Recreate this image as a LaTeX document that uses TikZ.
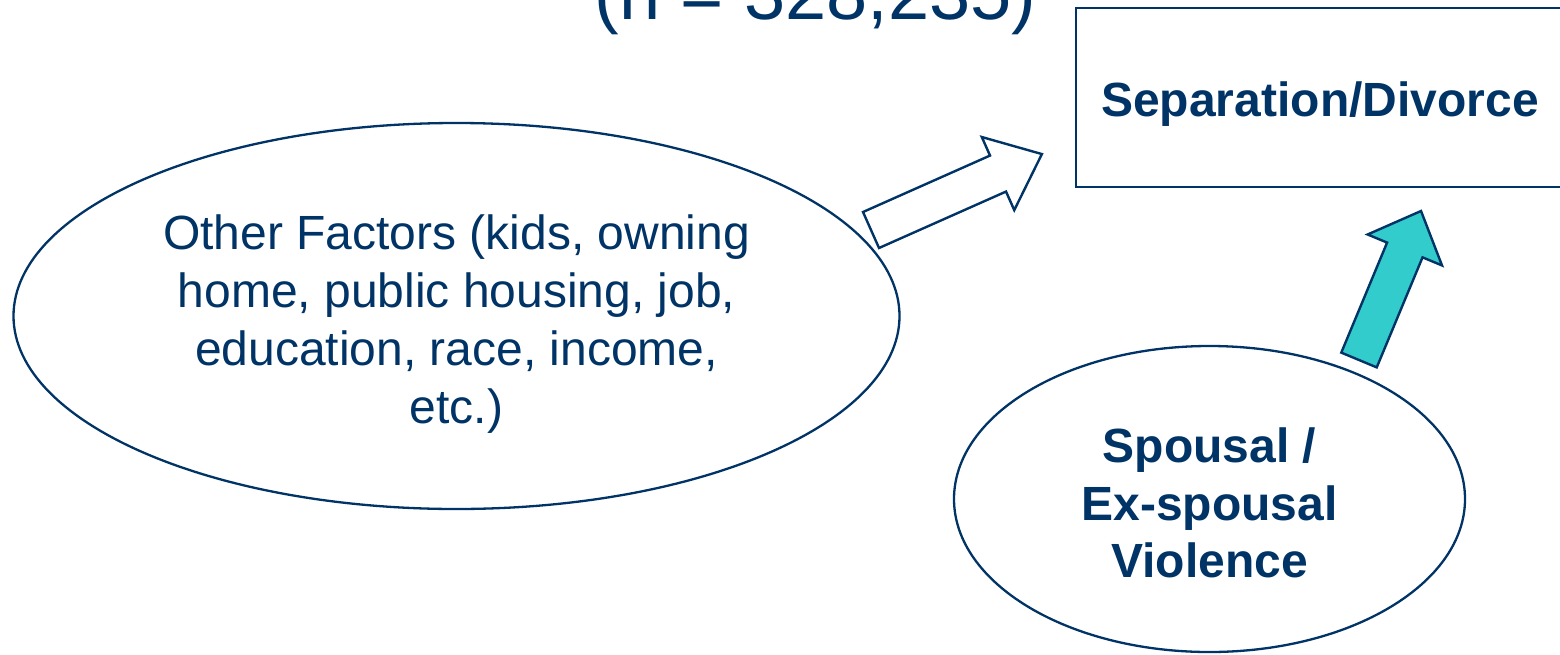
\documentclass[tikz,border=0pt]{standalone}
\usepackage{fontspec}
\setmainfont{Liberation Sans}
\usetikzlibrary{shapes.geometric}
\definecolor{navy}{RGB}{0,51,102}
\definecolor{aquafill}{RGB}{51,204,204}
\begin{document}
\begin{tikzpicture}[x=1pt,y=-1pt,
  outline/.style={draw=navy, line width=2.3pt},
  labeltext/.style={text=navy, inner sep=0pt, align=center},
  blockarrow/.style={draw=navy, line width=2.4pt, line join=miter}]
\useasboundingbox (0,0) rectangle (1560,654);
\clip (0,0) rectangle (1560,654);
\fill[white] (0,0) rectangle (1560,654);

% sample size heading, partly above the frame
\node[labeltext, anchor=base, font=\fontsize{74}{80}\selectfont] (title) at (815.5,19) {(n = 328,235)};

% outcome box
\node[outline, line width=2.4pt, rectangle, minimum width=488pt, minimum height=179pt,
      inner sep=0pt, text depth=0pt, text=navy, font=\fontsize{48}{58}\selectfont\bfseries]
      (sep) at (1320,97.5) {};
\node[labeltext, anchor=base, font=\fontsize{48}{58}\selectfont\bfseries] (septext) at (1320,116) {Separation/Divorce};

% other factors
\node[outline, ellipse, minimum width=886pt, minimum height=386pt, inner sep=0pt] (other) at (456.5,316) {};
\node[labeltext, font=\fontsize{48}{58}\selectfont] (othertext) at ([yshift=-8pt]other.center)
  {Other Factors (kids, owning\\home, public housing, job,\\education, race, income,\\etc.)};

% violence
\node[outline, ellipse, minimum width=511pt, minimum height=306pt, inner sep=0pt] (viol) at (1209.5,499) {};
\node[labeltext, font=\fontsize{48}{57.5}\selectfont\bfseries] (violtext) at ([yshift=-4pt]viol.center)
  {Spousal /\\Ex-spousal\\Violence};

% block arrows towards the outcome
\begin{scope}[shift={(871,230)}, rotate=23.96]
  \draw[blockarrow, fill=white] (0,-19.7) -- (139,-19.7) -- (139,-40) -- (187,0)
    -- (139,40) -- (139,19.7) -- (0,19.7) -- cycle;
\end{scope}
\begin{scope}[shift={(1359,360)}, rotate=67.4]
  \draw[blockarrow, fill=aquafill] (0,-19.2) -- (119.2,-19.2) -- (119.2,-40.3) -- (161.4,0)
    -- (119.2,40.3) -- (119.2,19.2) -- (0,19.2) -- cycle;
\end{scope}
\end{tikzpicture}
\end{document}
